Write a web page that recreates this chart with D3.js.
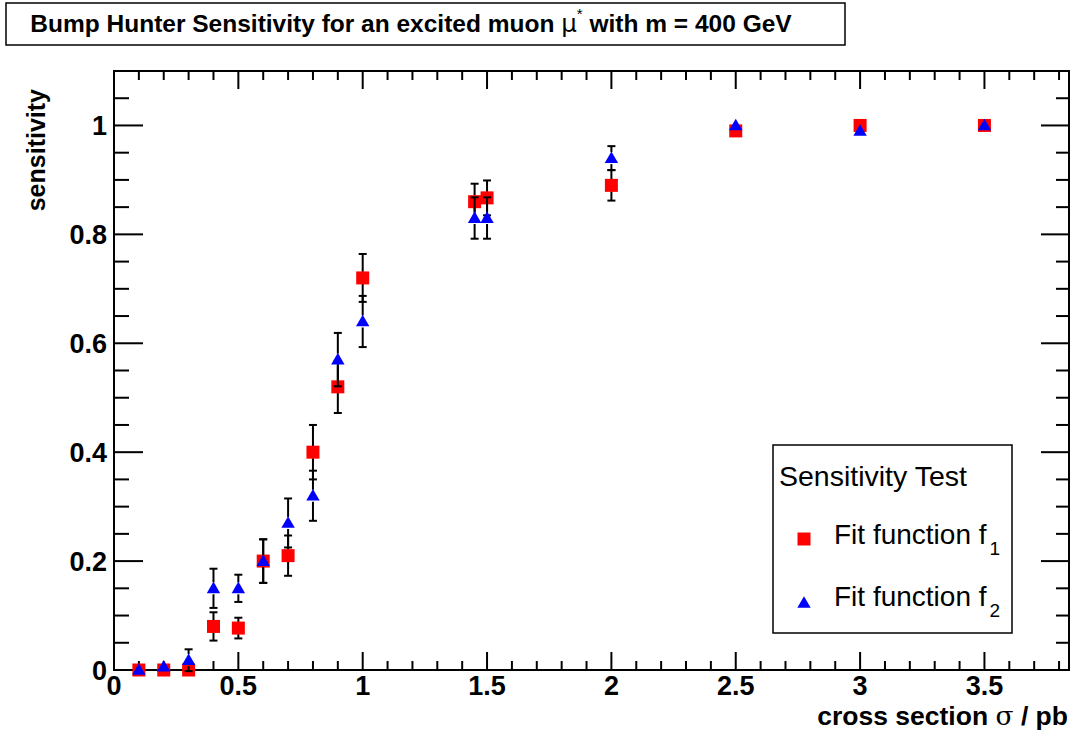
<!DOCTYPE html>
<html><head><meta charset="utf-8">
<script src="https://cdn.jsdelivr.net/npm/d3@7"></script>
<style>body{margin:0;background:#fff} svg{display:block}</style>
</head><body><svg id="c" width="1074" height="735"></svg>
<script>
// ---- data ----
const xValues  = [0.1, 0.2, 0.3, 0.4, 0.5, 0.6, 0.7, 0.8, 0.9, 1.0, 1.45, 1.5, 2.0, 2.5, 3.0, 3.5];
const f1Values = [0, 0, 0, 0.08, 0.077, 0.2, 0.21, 0.40, 0.52, 0.72, 0.86, 0.867, 0.89, 0.99, 1.0, 1.0];
const f1Errors = [0, 0, 0, 0.026, 0.019, 0.04, 0.037, 0.05, 0.048, 0.044, 0.033, 0.032, 0.028, 0, 0, 0];
const f2Values = [0, 0.006, 0.018, 0.15, 0.15, 0.2, 0.27, 0.32, 0.57, 0.64, 0.83, 0.83, 0.94, 1.0, 0.99, 1.0];
const f2Errors = [0, 0, 0.02, 0.036, 0.025, 0.04, 0.045, 0.046, 0.049, 0.047, 0.038, 0.038, 0.022, 0, 0, 0];
const xTickLabels = ["0", "0.5", "1", "1.5", "2", "2.5", "3", "3.5"];
const yTickLabels = ["0", "0.2", "0.4", "0.6", "0.8", "1"];
const seriesNames = ["Fit function f", "Fit function f"];
const seriesSubs = ["1", "2"];

const svg = d3.select("#c");
const L = 114, R = 1069, T = 71, B = 670;
const x = d3.scaleLinear().domain([0, 3.84]).range([L, R]);
const y = d3.scaleLinear().domain([0, 1.1]).range([B, T]);
const sans = "Liberation Sans, Arial, sans-serif";

svg.append("rect").attr("width", 1074).attr("height", 735).attr("fill", "#fff");

// ticks
const g = svg.append("g").attr("stroke", "#000").attr("stroke-width", 2);
d3.range(0, 39).map(i => i / 10).forEach(v => {
  const major = Math.abs(v * 2 - Math.round(v * 2)) < 1e-6;
  const len = major ? 18 : 9;
  g.append("line").attr("x1", x(v)).attr("x2", x(v)).attr("y1", B).attr("y2", B - len);
  g.append("line").attr("x1", x(v)).attr("x2", x(v)).attr("y1", T).attr("y2", T + len);
});
d3.range(0, 23).map(i => i * 0.05).forEach(v => {
  const major = Math.abs(v * 5 - Math.round(v * 5)) < 1e-6;
  g.append("line").attr("x1", L).attr("x2", L + (major ? 29 : 15)).attr("y1", y(v)).attr("y2", y(v));
  g.append("line").attr("x1", R).attr("x2", R - (major ? 28 : 13)).attr("y1", y(v)).attr("y2", y(v));
});

// frame
svg.append("rect").attr("x", L).attr("y", T).attr("width", R - L).attr("height", B - T)
  .attr("fill", "none").attr("stroke", "#000").attr("stroke-width", 2);

// tick labels
const lab = svg.append("g").attr("font-family", sans)
  .attr("font-weight", "bold").attr("font-size", 27).attr("fill", "#000");
xTickLabels.forEach(t => {
  lab.append("text").attr("x", x(+t)).attr("y", 695).attr("text-anchor", "middle").text(t);
});
yTickLabels.forEach(t => {
  lab.append("text").attr("x", 107).attr("y", y(+t)).attr("dy", "0.36em").attr("text-anchor", "end").text(t);
});

// axis titles
const xt = svg.append("text").attr("x", 1068).attr("y", 725).attr("text-anchor", "end")
  .attr("font-family", sans).attr("font-weight", "bold").attr("font-size", 26.5);
xt.append("tspan").text("cross section ");
xt.append("tspan").attr("font-weight", "normal").attr("font-family", "DejaVu Serif, serif").text("σ");
xt.append("tspan").text(" / pb");
svg.append("text").attr("transform", "translate(45,89) rotate(-90)").attr("text-anchor", "end")
  .attr("font-family", sans).attr("font-weight", "bold").attr("font-size", 25)
  .text("sensitivity");

// title box
svg.append("rect").attr("x", 6).attr("y", 3).attr("width", 839).attr("height", 42)
  .attr("fill", "#fff").attr("stroke", "#000").attr("stroke-width", 1.5);
const tt = svg.append("text").attr("x", 411).attr("y", 32).attr("text-anchor", "middle")
  .attr("font-family", sans).attr("font-weight", "bold").attr("font-size", 24.5);
tt.append("tspan").text("Bump Hunter Sensitivity for an excited muon ");
tt.append("tspan").attr("font-weight", "normal").attr("font-family", "DejaVu Sans, sans-serif").text("μ");
tt.append("tspan").attr("font-weight", "normal").attr("font-size", 15).attr("dy", -13).text("*");
tt.append("tspan").attr("dy", 13).text(" with m = 400 GeV");

// series drawing
const HALF = 6;
function drawErrors(vals, errs) {
  const eg = svg.append("g").attr("stroke", "#000").attr("stroke-width", 2);
  xValues.forEach((xv, i) => {
    const e = errs[i]; if (!e) return;
    const cx = x(xv), cy = y(vals[i]);
    const yt = y(vals[i] + e), yb = y(vals[i] - e);
    if (cy - HALF > yt) {
      eg.append("line").attr("x1", cx).attr("x2", cx).attr("y1", cy - HALF).attr("y2", yt);
      eg.append("line").attr("x1", cx - 4).attr("x2", cx + 4).attr("y1", yt).attr("y2", yt);
    }
    if (cy + HALF < yb) {
      eg.append("line").attr("x1", cx).attr("x2", cx).attr("y1", cy + HALF).attr("y2", yb);
      eg.append("line").attr("x1", cx - 4).attr("x2", cx + 4).attr("y1", yb).attr("y2", yb);
    }
  });
}
const sq = d3.symbol().type(d3.symbolSquare).size(169);
const tri = d3.symbol().type(d3.symbolTriangle).size(78);

drawErrors(f1Values, f1Errors);
svg.append("g").selectAll("path").data(xValues).join("path")
  .attr("d", sq).attr("fill", "#ff0000")
  .attr("transform", (d, i) => `translate(${x(d)},${y(f1Values[i])})`);
drawErrors(f2Values, f2Errors);
svg.append("g").selectAll("path").data(xValues).join("path")
  .attr("d", tri).attr("fill", "#0000ff")
  .attr("transform", (d, i) => `translate(${x(d)},${y(f2Values[i]) + 1})`);

// legend
const lg = svg.append("g");
lg.append("rect").attr("x", 773).attr("y", 445).attr("width", 239).attr("height", 188)
  .attr("fill", "#fff").attr("stroke", "#000").attr("stroke-width", 1.5);
lg.append("text").attr("x", 779).attr("y", 486).attr("font-family", sans).attr("font-size", 28.5).text("Sensitivity Test");
[[544, sq, "#ff0000", 539], [606, tri, "#0000ff", 604]].forEach((row, k) => {
  lg.append("path").attr("d", row[1]).attr("fill", row[2]).attr("transform", `translate(804,${row[3]})`);
  const t = lg.append("text").attr("x", 834).attr("y", row[0]).attr("font-family", sans).attr("font-size", 28);
  t.append("tspan").text(seriesNames[k]);
  t.append("tspan").attr("font-size", 19).attr("dx", 3).attr("dy", 11).text(seriesSubs[k]);
});
</script></body></html>
